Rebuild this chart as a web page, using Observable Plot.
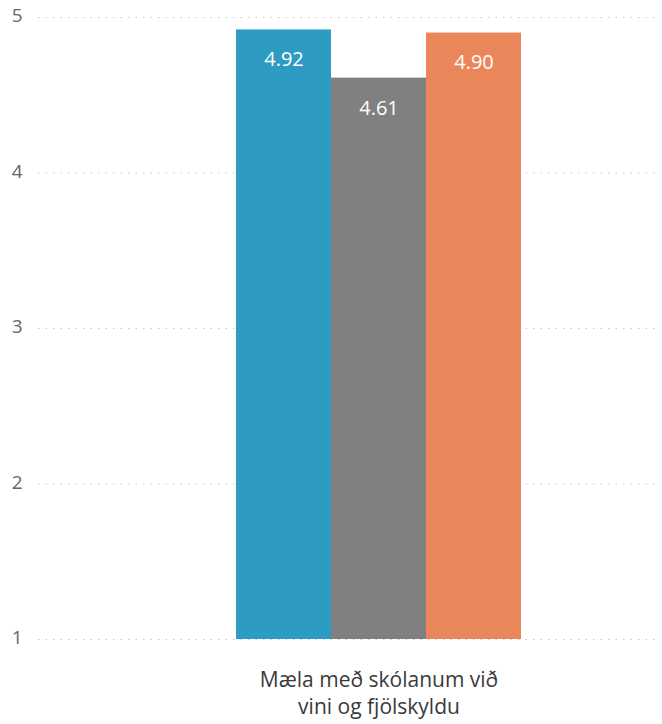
<!DOCTYPE html>
<html>
<head>
<meta charset="utf-8">
<script src="https://cdn.jsdelivr.net/npm/d3@7"></script>
<script src="https://cdn.jsdelivr.net/npm/@observablehq/plot@0.6"></script>
<style>
  html, body { margin: 0; padding: 0; background: #fff; }
</style>
</head>
<body>
<div id="chart"></div>
<script>
const category = "Mæla með skólanum við\nvini og fjölskyldu";
const series = ["A", "B", "C"];
const values = [4.92, 4.61, 4.90];
const colors = ["#2D9BC2", "#808080", "#E9875B"];
const yTicks = [1, 2, 3, 4, 5];

const data = series.map((s, i) => ({series: s, value: values[i]}));

const chart = Plot.plot({
  width: 662,
  height: 724,
  marginTop: 17,
  marginBottom: 85,
  marginLeft: 38,
  marginRight: 7,
  style: {fontFamily: "Open Sans, Noto Sans, sans-serif", fontSize: "19px", background: "#fff"},
  x: {domain: series, range: [235, 522], padding: 0, axis: null},
  y: {domain: [1, 5], label: null, axis: null},
  color: {domain: series, range: colors},
  marks: [
    Plot.ruleY(yTicks, {stroke: "#c8c8c8", strokeDasharray: "1.5,6", strokeWidth: 1.2}),
    Plot.axisY(yTicks, {tickSize: 0, tickPadding: 16, tickFormat: d3.format("d"), label: null, fill: "#666", dy: -1.5, ariaLabel: "yticks"}),
    Plot.barY(data, {x: "series", y1: 1, y2: "value", fill: "series", inset: 0}),
    Plot.text(data, {x: "series", y: "value", text: d => d.value.toFixed(2), fill: "white", dy: 30, fontSize: 20, lineAnchor: "middle"}),
    Plot.text([category], {x: () => series[1], frameAnchor: "bottom", dy: 52, text: d => d, fill: "#3a3a3a", fontSize: 21, lineHeight: 1.29, lineAnchor: "middle"})
  ]
});
chart.querySelectorAll('g[aria-label*="y-axis"] text, g[aria-label="yticks"] text').forEach(t => { t.style.fontSize = "19px"; });
document.getElementById("chart").appendChild(chart);
</script>
</body>
</html>
